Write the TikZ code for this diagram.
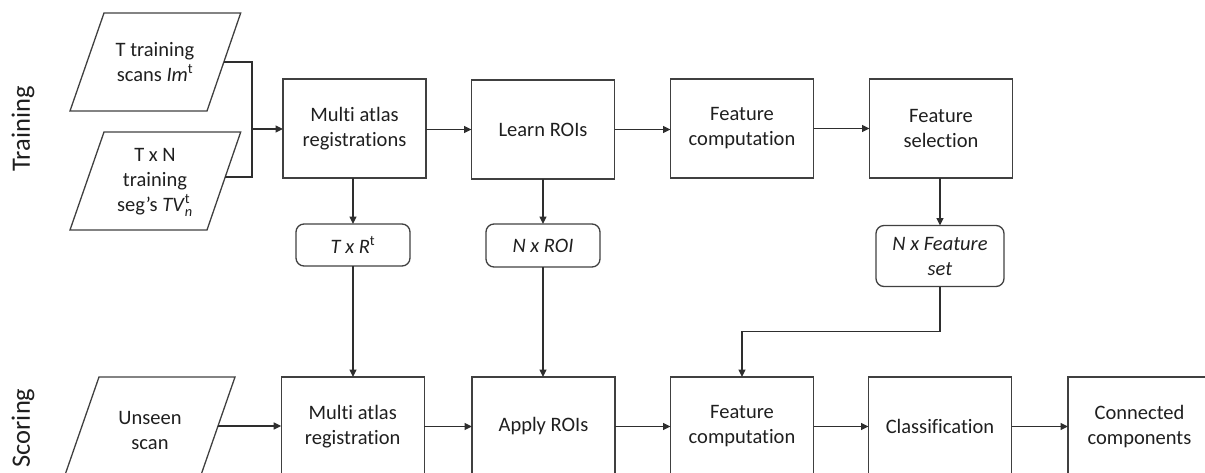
\documentclass[tikz,border=0pt]{standalone}
\usepackage{fontspec}
\setmainfont{Carlito}[Ligatures=CommonOff]
\usepackage{amsmath}
\usetikzlibrary{arrows.meta}
\begin{document}
\begin{tikzpicture}[x=1pt,y=-1pt,
  ln/.style={draw=black!82, line width=1.3pt},
  arr/.style={ln, -{Triangle[length=7.5pt,width=7pt]}},
  fnt/.style={font=\fontsize{20.5}{25}\selectfont, text=black!88},
  box/.style={fnt, draw=black!75, line width=1.3pt, minimum width=143pt, minimum height=99pt, align=center, inner sep=0pt, outer sep=0pt},
  rbox/.style={fnt, draw=black!75, line width=1.3pt, rounded corners=8pt, align=center, inner sep=0pt, outer sep=0pt},
  txt/.style={fnt, align=center, inner sep=0pt},
  para/.style={draw=black!75, line width=1.3pt},
  lbl/.style={rotate=90, font=\fontsize{26.5}{30}\selectfont, text=black!88}]
\useasboundingbox (0,0) rectangle (1205,472);
\clip (0,0) rectangle (1205,472);
% side labels
\node[lbl] (ltr) at (23,129) {Training};
\node[lbl] (lsc) at (23,428) {Scoring};
% input parallelograms
\draw[para] (104,13) -- (240.7,13) -- (207,111) -- (70,111) -- cycle;
\draw[para] (104,132) -- (240.7,132) -- (207,230) -- (70,230) -- cycle;
\draw[para] (99,377) -- (235,377) -- (201,475) -- (65,475) -- cycle;
\node[txt] (p1) at (155,62) {T training\\scans \textit{Im}\textsuperscript{t}};
\node[txt] (p2) at (155,182) {T x N\\training\\seg’s $\text{\textit{TV}}_{\text{\textit{n}}}^{\text{t}}$};
\node[txt] (p3) at (150,430) {Unseen\\scan};
\coordinate (p1e) at (223.9,62);
\coordinate (p2e) at (225,177);
\coordinate (p3e) at (218,426);
\coordinate (j) at (252,129);
% training row
\node[box] (mar1) at (354.5,128.5) {Multi atlas\\registrations};
\node[box] (lroi) at (543,129.5) {Learn ROIs};
\node[box] (fc1) at (742,128.5) {Feature\\computation};
\node[box] (fs) at (941,128.5) {Feature\\selection};
% intermediate results
\node[rbox, minimum width=114pt, minimum height=42pt] (rtr) at (353,245) {\itshape T x R\textsuperscript{\upshape t}};
\node[rbox, minimum width=114pt, minimum height=43pt] (nroi) at (543,245.5) {\itshape N x ROI};
\node[rbox, minimum width=128pt, minimum height=61pt] (nfs) at (940,256) {\itshape N x Feature\\\itshape set};
% scoring row
\node[box] (mar2) at (352.7,426.5) {Multi atlas\\registration};
\node[box] (aroi) at (543.5,426.5) {Apply ROIs};
\node[box] (fc2) at (742,426.5) {Feature\\computation};
\node[box] (cls) at (940,426.5) {Classification};
\node[box] (cc) at (1139.5,426.5) {Connected\\components};
% connectors
\draw[ln] (p1e) -- (p1e -| j) -- (p2e -| j) -- (p2e);
\draw[arr] (j) -- (mar1.west |- j);
\draw[arr] (mar1.east |- lroi.west) -- (lroi.west);
\draw[arr] (lroi.east) -- (fc1.west |- lroi.east);
\draw[arr] (fc1.east) -- (fs.west);
\draw[arr] (rtr.north |- mar1.south) -- (rtr.north);
\draw[arr] (nroi.north |- lroi.south) -- (nroi.north);
\draw[arr] (nfs.north |- fs.south) -- (nfs.north);
\draw[arr] (rtr.south) -- (rtr.south |- mar2.north);
\draw[arr] (nroi.south) -- (nroi.south |- aroi.north);
\draw[arr] (nfs.south) -- ++(0,45) -| (fc2.north);
\draw[arr] (p3e) -- (mar2.west |- p3e);
\draw[arr] (mar2.east) -- (aroi.west);
\draw[arr] (aroi.east) -- (fc2.west);
\draw[arr] (fc2.east) -- (cls.west);
\draw[arr] (cls.east) -- (cc.west);
\end{tikzpicture}
\end{document}
